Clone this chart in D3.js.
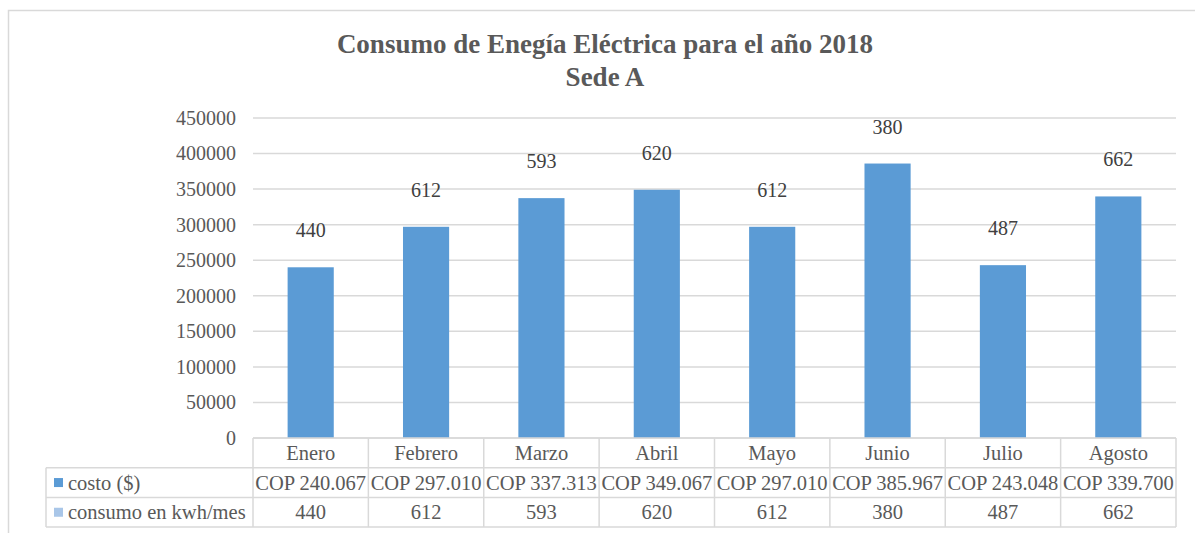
<!DOCTYPE html>
<html>
<head>
<meta charset="utf-8">
<script src="https://cdn.jsdelivr.net/npm/d3@7"></script>
<style>
  body { margin: 0; background: #fff; }
  text { font-family: "Liberation Serif", "Times New Roman", serif; fill: #595959; }
</style>
</head>
<body>
<div id="chart"></div>
<script>
// data
var meses = ["Enero", "Febrero", "Marzo", "Abril", "Mayo", "Junio", "Julio", "Agosto"];
var costo = [240067, 297010, 337313, 349067, 297010, 385967, 243048, 339700];
var costoLabels = ["COP 240.067", "COP 297.010", "COP 337.313", "COP 349.067",
                   "COP 297.010", "COP 385.967", "COP 243.048", "COP 339.700"];
var consumo = [440, 612, 593, 620, 612, 380, 487, 662];
var yTicks = [0, 50000, 100000, 150000, 200000, 250000, 300000, 350000, 400000, 450000];
var seriesNames = ["costo ($)", "consumo en kwh/mes"];

var W = 1195, H = 533;
var plot = { left: 253, right: 1176, top: 118, bottom: 438 };
var rowH = 29.7;
var legendLeft = 46;
var gridColor = "#d9d9d9";
var fs = "20.5px";

var svg = d3.select("#chart")
  .append("svg")
  .attr("width", W)
  .attr("height", H);

svg.append("rect")
  .attr("width", W).attr("height", H)
  .attr("fill", "#fff");

// outer chart border (right/bottom fall outside the picture)
svg.append("rect")
  .attr("x", 8.5).attr("y", 10.5)
  .attr("width", 1200).attr("height", 540)
  .attr("fill", "none")
  .attr("stroke", gridColor)
  .attr("stroke-width", 1.5);

// title
svg.append("text")
  .attr("x", 605).attr("y", 53)
  .attr("text-anchor", "middle")
  .style("font-size", "27px")
  .style("font-weight", "bold")
  .text("Consumo de Enegía Eléctrica para el año 2018");
svg.append("text")
  .attr("x", 605).attr("y", 86)
  .attr("text-anchor", "middle")
  .style("font-size", "27px")
  .style("font-weight", "bold")
  .text("Sede A");

var x = d3.scaleBand()
  .domain(meses)
  .range([plot.left, plot.right])
  .paddingInner(0.6)
  .paddingOuter(0.3);

var y = d3.scaleLinear()
  .domain([0, 450000])
  .range([plot.bottom, plot.top]);

// gridlines
svg.append("g")
  .selectAll("line")
  .data(yTicks)
  .enter()
  .append("line")
  .attr("x1", plot.left).attr("x2", plot.right)
  .attr("y1", function (d) { return y(d); })
  .attr("y2", function (d) { return y(d); })
  .attr("stroke", gridColor)
  .attr("stroke-width", 1.5);

// y axis labels
var yAxis = svg.append("g")
  .attr("transform", "translate(" + 236 + ",0)")
  .call(d3.axisLeft(y).tickValues(yTicks).tickSize(0).tickPadding(0).tickFormat(d3.format("d")));
yAxis.attr("font-family", null).attr("font-size", null);
yAxis.select(".domain").remove();
yAxis.selectAll("text")
  .style("font-size", "20px")
  .attr("fill", "#595959");

// bars
svg.append("g")
  .selectAll("rect")
  .data(costo)
  .enter()
  .append("rect")
  .attr("x", function (d, i) { return x(meses[i]); })
  .attr("y", function (d) { return y(d); })
  .attr("width", x.bandwidth())
  .attr("height", function (d) { return y(0) - y(d); })
  .attr("fill", "#5b9bd5");

// data labels (consumo)
svg.append("g")
  .selectAll("text")
  .data(consumo)
  .enter()
  .append("text")
  .attr("x", function (d, i) { return x(meses[i]) + x.bandwidth() / 2; })
  .attr("y", function (d, i) { return y(costo[i]) - 30; })
  .attr("text-anchor", "middle")
  .style("font-size", "20px")
  .style("fill", "#404040")
  .text(function (d) { return d; });

// data table
var step = x.step();
var colLeft = function (i) { return plot.left + i * step; };
var t = svg.append("g");

// horizontal lines
var hLines = [
  { y: plot.bottom, x1: plot.left },
  { y: plot.bottom + rowH, x1: legendLeft },
  { y: plot.bottom + 2 * rowH, x1: legendLeft },
  { y: plot.bottom + 3 * rowH, x1: legendLeft }
];
t.selectAll(".hl")
  .data(hLines)
  .enter()
  .append("line")
  .attr("x1", function (d) { return d.x1; })
  .attr("x2", plot.right)
  .attr("y1", function (d) { return d.y; })
  .attr("y2", function (d) { return d.y; })
  .attr("stroke", gridColor)
  .attr("stroke-width", 1.5);

// vertical lines
t.selectAll(".vl")
  .data(d3.range(meses.length + 1))
  .enter()
  .append("line")
  .attr("x1", function (i) { return colLeft(i); })
  .attr("x2", function (i) { return colLeft(i); })
  .attr("y1", plot.bottom)
  .attr("y2", plot.bottom + 3 * rowH)
  .attr("stroke", gridColor)
  .attr("stroke-width", 1.5);
t.append("line")
  .attr("x1", legendLeft).attr("x2", legendLeft)
  .attr("y1", plot.bottom + rowH).attr("y2", plot.bottom + 3 * rowH)
  .attr("stroke", gridColor)
  .attr("stroke-width", 1.5);

// category row
t.selectAll(".cat")
  .data(meses)
  .enter()
  .append("text")
  .attr("x", function (d) { return x(d) + x.bandwidth() / 2; })
  .attr("y", plot.bottom + rowH / 2 + 7)
  .attr("text-anchor", "middle")
  .style("font-size", fs)
  .text(function (d) { return d; });

var rows = [costoLabels, consumo];
var keyColors = ["#5b9bd5", "#a9c6e8"];
rows.forEach(function (vals, r) {
  var cy = plot.bottom + rowH * (r + 1) + rowH / 2;
  t.selectAll(".r" + r)
    .data(vals)
    .enter()
    .append("text")
    .attr("x", function (d, i) { return x(meses[i]) + x.bandwidth() / 2; })
    .attr("y", cy + 7)
    .attr("text-anchor", "middle")
    .style("font-size", fs)
    .text(function (d) { return d; });
  t.append("rect")
    .attr("x", 54).attr("y", cy - 4.5)
    .attr("width", 9).attr("height", 9)
    .attr("fill", keyColors[r]);
  t.append("text")
    .attr("x", 68).attr("y", cy + 7)
    .style("font-size", fs)
    .text(seriesNames[r]);
});
</script>
</body>
</html>
